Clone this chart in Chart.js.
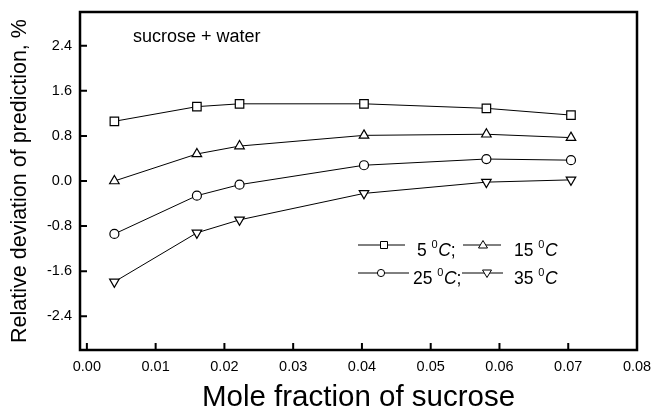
<!DOCTYPE html>
<html>
<head>
<meta charset="utf-8">
<script src="https://cdn.jsdelivr.net/npm/chart.js@4/dist/chart.umd.min.js"></script>
<style>
  html, body { margin: 0; padding: 0; background: #fff; }
  #wrap { width: 652px; height: 413px; }
</style>
</head>
<body>
<div id="wrap"><canvas id="myChart" width="652" height="413"></canvas></div>
<script>
// data
const molFraction = [0.0040, 0.0160, 0.0222, 0.0403, 0.0581, 0.0704];
const dev5C  = [1.06, 1.32, 1.37, 1.37, 1.29, 1.17];
const dev15C = [0.00, 0.48, 0.62, 0.81, 0.83, 0.77];
const dev25C = [-0.94, -0.26, -0.065, 0.28, 0.39, 0.37];
const dev35C = [-1.79, -0.92, -0.69, -0.22, -0.02, 0.02];
const xTicks = [0, 0.01, 0.02, 0.03, 0.04, 0.05, 0.06, 0.07, 0.08];
const yTicks = [-2.4, -1.6, -0.8, 0, 0.8, 1.6, 2.4];

const FONT = "'Liberation Sans', Arial, sans-serif";

function pts(ys) {
    return molFraction.map((x, i) => ({x: x, y: ys[i]}));
}

function series(label, ys, style, radius, rot) {
    return {
        label: label,
        data: pts(ys),
        borderColor: "#000",
        borderWidth: 1,
        backgroundColor: "#fff",
        pointStyle: style,
        pointRotation: rot || 0,
        pointRadius: radius,
        pointHoverRadius: radius,
        pointBorderColor: "#000",
        pointBackgroundColor: "#fff",
        pointBorderWidth: 1.2,
        tension: 0
    };
}

// little marker for the hand-drawn legend
function marker(ctx, kind, x, y) {
    ctx.beginPath();
    if (kind === "rect") {
        ctx.rect(x - 3.5, y - 3.5, 7, 7);
    } else if (kind === "circle") {
        ctx.arc(x, y, 3.6, 0, Math.PI * 2);
    } else if (kind === "up") {
        ctx.moveTo(x, y - 4.5); ctx.lineTo(x + 4.5, y + 3); ctx.lineTo(x - 4.5, y + 3); ctx.closePath();
    } else {
        ctx.moveTo(x, y + 4.5); ctx.lineTo(x + 4.5, y - 3); ctx.lineTo(x - 4.5, y - 3); ctx.closePath();
    }
    ctx.fillStyle = "#fff"; ctx.fill();
    ctx.lineWidth = 1; ctx.strokeStyle = "#000"; ctx.stroke();
}

function legendItem(ctx, kind, x1, xm, x2, y, num, tx, semi) {
    ctx.strokeStyle = "#000"; ctx.lineWidth = 1;
    ctx.beginPath(); ctx.moveTo(x1, y); ctx.lineTo(x2, y); ctx.stroke();
    marker(ctx, kind, xm, y);
    ctx.fillStyle = "#000";
    ctx.textBaseline = "alphabetic"; ctx.textAlign = "left";
    const base = y + 11;
    ctx.font = "17.5px " + FONT;
    ctx.fillText(num, tx, base);
    let cx = tx + ctx.measureText(num + " ").width;
    ctx.font = "11px " + FONT;
    ctx.fillText("0", cx, base - 8);
    cx += ctx.measureText("0").width + 0.5;
    ctx.font = "italic 17.5px " + FONT;
    ctx.fillText("C", cx, base);
    cx += ctx.measureText("C").width;
    if (semi) {
        ctx.font = "17.5px " + FONT;
        ctx.fillText(";", cx, base);
    }
}

const framePlugin = {
    id: "frame",
    afterDraw(chart) {
        const ctx = chart.ctx;
        const a = chart.chartArea;
        const xs = chart.scales.x, ys = chart.scales.y;
        ctx.save();
        ctx.strokeStyle = "#000";
        ctx.lineWidth = 2.5;
        ctx.strokeRect(a.left, a.top, a.right - a.left, a.bottom - a.top);
        ctx.lineWidth = 2;
        ctx.beginPath();
        xTicks.forEach(v => {
            const px = xs.getPixelForValue(v);
            ctx.moveTo(px, a.bottom); ctx.lineTo(px, a.bottom - 7);
        });
        yTicks.forEach(v => {
            const py = ys.getPixelForValue(v);
            ctx.moveTo(a.left, py); ctx.lineTo(a.left + 7, py);
        });
        ctx.stroke();

        ctx.fillStyle = "#000";
        ctx.font = "18px " + FONT;
        ctx.textBaseline = "middle";
        ctx.textAlign = "left";
        ctx.fillText("sucrose + water", 133, 37);

        legendItem(ctx, "rect", 358, 384, 405, 245, "5", 417, true);
        legendItem(ctx, "up", 463, 483, 501, 245, "15", 514, false);
        legendItem(ctx, "circle", 358, 381, 409, 273, "25", 413, true);
        legendItem(ctx, "down", 462, 487, 503, 273, "35", 514, false);
        ctx.restore();
    }
};

new Chart(document.getElementById("myChart"), {
    type: "line",
    data: {
        datasets: [
            series("5 °C", dev5C, "rect", 6),
            series("15 °C", dev15C, "triangle", 5.5),
            series("25 °C", dev25C, "circle", 4.5),
            series("35 °C", dev35C, "triangle", 5.5, 180)
        ]
    },
    options: {
        responsive: false,
        animation: false,
        layout: { padding: { top: 12, right: 15, left: 0, bottom: 0 } },
        plugins: {
            legend: { display: false },
            tooltip: { enabled: false }
        },
        scales: {
            x: {
                type: "linear",
                min: -0.001,
                max: 0.08,
                afterBuildTicks: s => { s.ticks = xTicks.map(v => ({value: v})); },
                afterFit: s => { s.height = 63; s.paddingLeft = 0; s.paddingRight = 0; },
                grid: { display: false, drawTicks: false },
                border: { display: false },
                ticks: {
                    color: "#000",
                    padding: 8,
                    font: { family: FONT, size: 14.5 },
                    callback: v => Number(v).toFixed(2)
                },
                title: {
                    display: true,
                    text: "Mole fraction of sucrose",
                    color: "#000",
                    font: { family: FONT, size: 29.5, lineHeight: 1 },
                    padding: { top: 0, bottom: 0 }
                }
            },
            y: {
                min: -3,
                max: 3,
                afterBuildTicks: s => { s.ticks = yTicks.map(v => ({value: v})); },
                afterFit: s => { s.width = 80; s.paddingTop = 0; s.paddingBottom = 0; },
                grid: { display: false, drawTicks: false },
                border: { display: false },
                ticks: {
                    color: "#000",
                    padding: 8,
                    font: { family: FONT, size: 14.5 },
                    callback: v => Number(v).toFixed(1)
                },
                title: {
                    display: true,
                    text: "Relative deviation of prediction, %",
                    color: "#000",
                    font: { family: FONT, size: 21.5, lineHeight: 1 },
                    padding: { top: 9, bottom: 0 }
                }
            }
        }
    },
    plugins: [framePlugin]
});
</script>
</body>
</html>
